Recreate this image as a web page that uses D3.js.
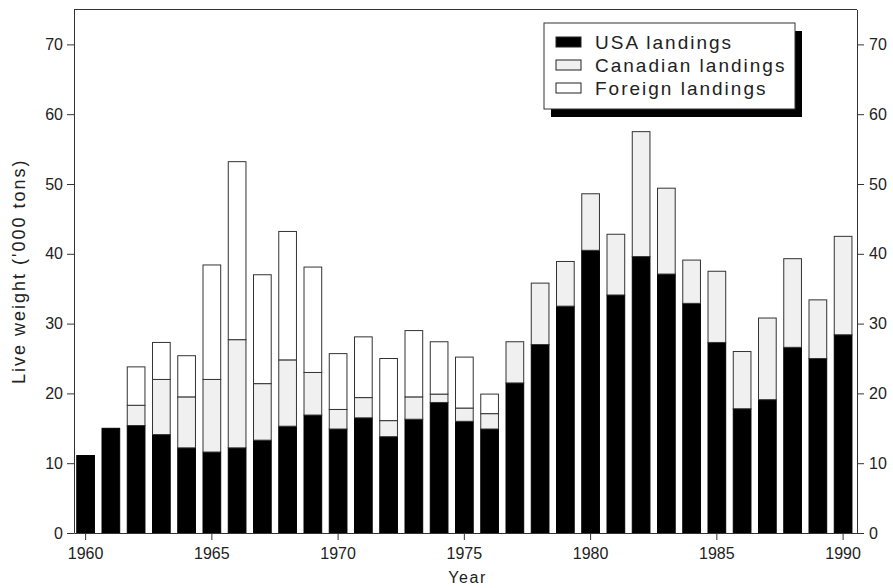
<!DOCTYPE html>
<html>
<head>
<meta charset="utf-8">
<script src="https://cdn.jsdelivr.net/npm/d3@7"></script>
<style>
  body { margin: 0; background: #fff; }
  svg { font-family: "Liberation Sans", Arial, sans-serif; }
  .axis text { font-size: 16px; fill: #222; }
  .axis path, .axis line { stroke: #333; }
</style>
</head>
<body>
<div class="chart"></div>
<script>
var svgWidth = 893;
var svgHeight = 588;

// landings, '000 tons
var years = d3.range(1960, 1991);
var usa = [11.1, 15.0, 15.4, 14.1, 12.2, 11.6, 12.2, 13.3, 15.3, 16.9,
  14.9, 16.5, 13.8, 16.3, 18.7, 16.0, 14.9, 21.5, 27.0, 32.5,
  40.5, 34.1, 39.6, 37.1, 32.9, 27.3, 17.8, 19.1, 26.6, 25.0, 28.4];
var canadian = [0, 0, 2.9, 7.9, 7.3, 10.4, 15.5, 8.1, 9.5, 6.1,
  2.8, 2.9, 2.3, 3.2, 1.2, 1.9, 2.2, 5.9, 8.8, 6.4,
  8.1, 8.7, 17.9, 12.3, 6.2, 10.2, 8.2, 11.7, 12.7, 8.4, 14.1];
var foreign = [0, 0, 5.5, 5.3, 5.9, 16.4, 25.5, 15.6, 18.4, 15.1,
  8.0, 8.7, 8.9, 9.5, 7.5, 7.3, 2.8, 0, 0, 0,
  0, 0, 0, 0, 0, 0, 0, 0, 0, 0, 0];
var seriesNames = ["USA landings", "Canadian landings", "Foreign landings"];
var yTicks = [0, 10, 20, 30, 40, 50, 60, 70];
var xTicks = [1960, 1965, 1970, 1975, 1980, 1985, 1990];

var keys = ["usa", "canadian", "foreign"];
var fills = { usa: "#000", canadian: "#f0f0f0", foreign: "#fff" };

var tableData = years.map(function(yr, i) {
  return { year: yr, usa: usa[i], canadian: canadian[i], foreign: foreign[i] };
});

var margin = { top: 9, right: 36, bottom: 55, left: 74 };
var plotRight = svgWidth - margin.right;

var svg = d3.select(".chart")
  .append("svg")
  .attr("width", svgWidth)
  .attr("height", svgHeight);

var xScale = d3.scaleLinear()
  .domain([1959.56, 1990.57])
  .range([margin.left, plotRight]);

var yScale = d3.scaleLinear()
  .domain([0, 75])
  .range([533, 9.5]);

var barWidth = 17.7;

// stacked bars
var stacked = d3.stack().keys(keys)(tableData);

var layers = svg.append("g")
  .selectAll("g")
  .data(stacked)
  .enter()
  .append("g")
  .attr("fill", d => fills[d.key])
  .attr("stroke", d => d.key === "usa" ? "#000" : "#333");

layers.selectAll("rect")
  .data(d => d.filter(s => s[1] - s[0] > 0))
  .enter()
  .append("rect")
  .attr("x", d => xScale(d.data.year) - barWidth / 2 + 0.5)
  .attr("width", barWidth)
  .attr("y", d => yScale(d[1]))
  .attr("height", d => yScale(d[0]) - yScale(d[1]))
  .attr("stroke-width", 1);

// frame top
svg.append("line")
  .attr("x1", margin.left).attr("x2", plotRight)
  .attr("y1", yScale(75)).attr("y2", yScale(75))
  .attr("stroke", "#333");

// axes
var leftAxis = d3.axisLeft(yScale).tickValues(yTicks).tickSize(7).tickPadding(4).tickSizeOuter(0);
var rightAxis = d3.axisRight(yScale).tickValues(yTicks).tickSize(7).tickPadding(5).tickSizeOuter(0);
var bottomAxis = d3.axisBottom(xScale).tickValues(xTicks).tickFormat(d3.format("d"))
  .tickSize(7).tickPadding(8).tickSizeOuter(0);

svg.append("g").attr("class", "axis")
  .attr("transform", `translate(${margin.left}, 0)`)
  .call(leftAxis);

svg.append("g").attr("class", "axis")
  .attr("transform", `translate(${plotRight}, 0)`)
  .call(rightAxis);

svg.append("g").attr("class", "axis")
  .attr("transform", `translate(0, ${yScale(0)})`)
  .call(bottomAxis);

// axis titles
svg.append("text")
  .attr("x", (margin.left + plotRight) / 2 + 2)
  .attr("y", 583)
  .attr("text-anchor", "middle")
  .style("font-size", "16px")
  .style("letter-spacing", "1.6px")
  .attr("fill", "#222")
  .text("Year");

svg.append("text")
  .attr("transform", `translate(25, ${(yScale(0) + yScale(75)) / 2}) rotate(-90)`)
  .attr("text-anchor", "middle")
  .style("font-size", "18px")
  .style("letter-spacing", "2px")
  .attr("fill", "#222")
  .text("Live weight ('000 tons)");

// legend with drop shadow
var legend = svg.append("g").attr("transform", "translate(544, 23)");

legend.append("rect")
  .attr("x", 7).attr("y", 8)
  .attr("width", 251).attr("height", 86)
  .attr("fill", "#000");

legend.append("rect")
  .attr("x", 0).attr("y", 0)
  .attr("width", 251).attr("height", 86)
  .attr("fill", "#fff")
  .attr("stroke", "#333");

var rows = legend.selectAll(".row")
  .data(keys)
  .enter()
  .append("g")
  .attr("transform", (d, i) => `translate(12, ${19 + i * 23})`);

rows.append("rect")
  .attr("x", 0).attr("y", -5)
  .attr("width", 25).attr("height", 10)
  .attr("fill", d => fills[d])
  .attr("stroke", "#222");

rows.append("text")
  .attr("x", 39)
  .attr("y", 6.5)
  .style("font-size", "19px")
  .style("letter-spacing", "2px")
  .attr("fill", "#222")
  .text((d, i) => seriesNames[i]);
</script>
</body>
</html>
